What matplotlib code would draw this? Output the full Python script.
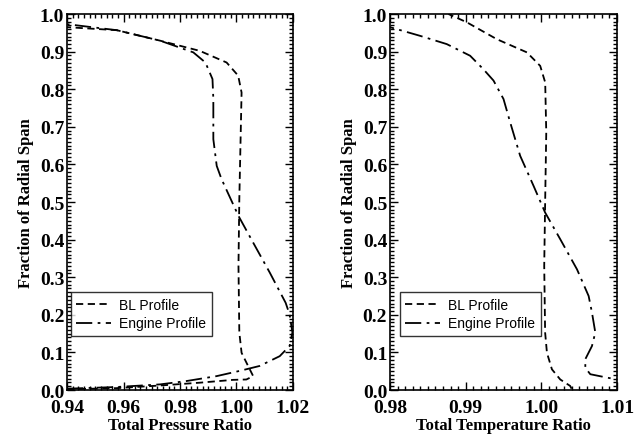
import numpy as np
import matplotlib.pyplot as plt
from matplotlib.ticker import MultipleLocator

# Total pressure ratio profiles
bl_p_x = [0.94, 0.9576, 0.973, 0.987, 0.9988, 1.0035, 1.0059, 1.0041, 1.0018, 1.001,
          1.0007, 1.001, 1.0015, 1.0018, 1.0006, 0.9965, 0.987, 0.973, 0.9576, 0.94]
bl_p_y = [0.002, 0.005, 0.012, 0.0195, 0.027, 0.028, 0.037, 0.064, 0.099, 0.153,
          0.330, 0.508, 0.685, 0.791, 0.836, 0.871, 0.902, 0.929, 0.957, 0.965]
en_p_x = [0.94, 0.9576, 0.973, 0.9824, 0.993, 1.0012, 1.0082, 1.0153, 1.0188, 1.0198,
          1.0188, 1.0174, 1.0118, 1.0059, 1.0007, 0.9947, 0.993, 0.9918, 0.9918, 0.9915,
          0.989, 0.9847, 0.973, 0.9576, 0.94]
en_p_y = [0.0035, 0.008, 0.015, 0.024, 0.037, 0.051, 0.064, 0.09, 0.117, 0.153,
          0.201, 0.232, 0.312, 0.392, 0.463, 0.561, 0.596, 0.667, 0.774, 0.827,
          0.871, 0.898, 0.929, 0.957, 0.973]

# Total temperature ratio profiles
bl_t_x = [1.004, 1.0038, 1.0025, 1.0014, 1.00074, 1.0005, 1.00038, 1.00051, 1.00065,
          1.00051, 0.99985, 0.99809, 0.99412, 0.99015, 0.98772]
bl_t_y = [0.0035, 0.011, 0.028, 0.055, 0.099, 0.153, 0.330, 0.508, 0.685,
          0.818, 0.862, 0.898, 0.933, 0.978, 1.0]
en_t_x = [1.012, 1.01, 1.00868, 1.00647, 1.00581, 1.00581, 1.00669, 1.00713, 1.00669,
          1.00625, 1.00471, 1.0025, 1.0005, 0.99897, 0.9972, 0.99588, 0.995, 0.99368,
          0.99235, 0.99059, 0.9875, 0.98397, 0.98]
en_t_y = [0.026, 0.028, 0.033, 0.042, 0.059, 0.082, 0.117, 0.153, 0.206,
          0.250, 0.321, 0.401, 0.472, 0.543, 0.623, 0.712, 0.774, 0.823,
          0.853, 0.889, 0.920, 0.942, 0.965]

plt.rcParams['font.family'] = ['Liberation Serif', 'DejaVu Serif']
plt.rcParams['font.weight'] = 'bold'

fig = plt.figure(figsize=(6.39, 4.39), dpi=100)
ax1 = fig.add_axes([0.1049, 0.1093, 0.3536, 0.8565])
ax2 = fig.add_axes([0.6103, 0.1093, 0.3553, 0.8565])

dash = (0, (4, 2.5))
dashdot = (0, (9, 3, 1.5, 3))


def style(ax, xlim, xmaj, xmin, xlabel, legx):
    ax.set_xlim(*xlim)
    ax.set_ylim(0, 1.0)
    ax.xaxis.set_major_locator(MultipleLocator(xmaj))
    ax.xaxis.set_minor_locator(MultipleLocator(xmin))
    ax.yaxis.set_major_locator(MultipleLocator(0.1))
    ax.yaxis.set_minor_locator(MultipleLocator(0.01))
    ax.tick_params(which='both', direction='in', top=True, right=True,
                   labelsize=14, width=1)
    ax.tick_params(axis='y', pad=2)
    ax.tick_params(axis='x', pad=6.5)
    ax.tick_params(which='major', length=6)
    ax.tick_params(which='minor', length=3)
    for s in ax.spines.values():
        s.set_linewidth(1.2)
    ax.set_xlabel(xlabel, fontsize=12, fontweight='bold', labelpad=1)
    ax.set_ylabel('Fraction of Radial Span', fontsize=12, fontweight='bold', labelpad=4)
    leg = ax.legend(loc='lower left', bbox_to_anchor=(legx, 0.129), fancybox=False,
                    edgecolor='black', handlelength=2.5, handletextpad=0.6,
                    borderaxespad=0.4, borderpad=0.4, labelspacing=0.35,
                    prop={'family': 'Liberation Sans', 'size': 10, 'weight': 'normal'})
    leg.get_frame().set_linewidth(1.0)


ax1.plot(bl_p_x, bl_p_y, color='black', lw=1.3, ls=dash, label='BL Profile')
ax1.plot(en_p_x, en_p_y, color='black', lw=1.3, ls=dashdot, label='Engine Profile')
style(ax1, (0.94, 1.02), 0.02, 0.002, 'Total Pressure Ratio', -0.008)
ax1.xaxis.set_major_formatter(plt.FuncFormatter(lambda v, p: f'{v:.2f}'))

ax2.plot(bl_t_x, bl_t_y, color='black', lw=1.3, ls=dash, label='BL Profile')
ax2.plot(en_t_x, en_t_y, color='black', lw=1.3, ls=dashdot, label='Engine Profile')
style(ax2, (0.98, 1.01), 0.01, 0.001, 'Total Temperature Ratio', 0.018)
ax2.xaxis.set_major_formatter(plt.FuncFormatter(lambda v, p: f'{v:.2f}'))

for ax in (ax1, ax2):
    ax.yaxis.set_major_formatter(plt.FuncFormatter(lambda v, p: f'{v:.1f}'))

fig.savefig('out.png', dpi=100)
